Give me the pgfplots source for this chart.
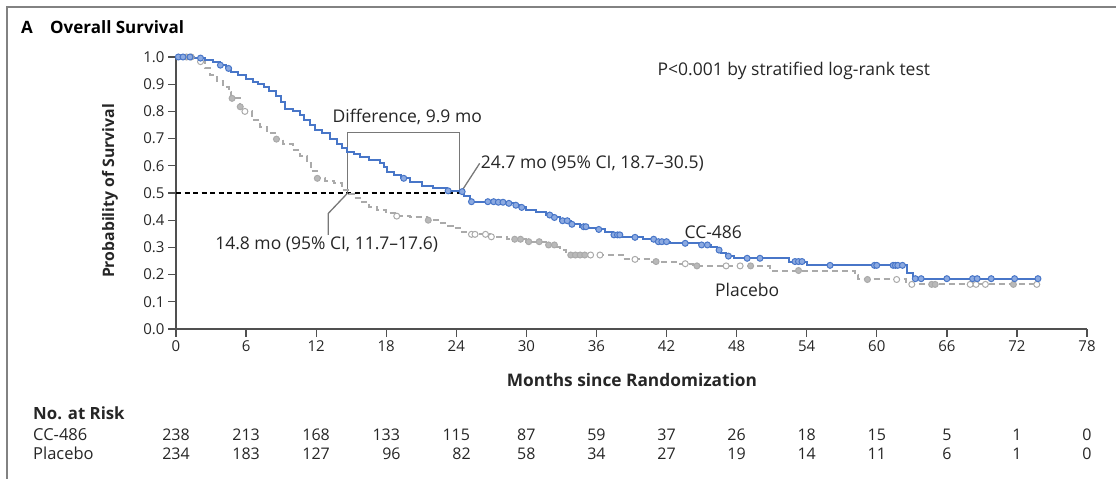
\documentclass[border=0pt]{standalone}
\usepackage{fontspec}
\setmainfont{Open Sans}
\usepackage{pgfplots}
\pgfplotsset{compat=1.18}
\definecolor{cblue}{RGB}{72,118,200}
\definecolor{cbluefill}{RGB}{140,170,225}
\definecolor{cgray}{RGB}{170,170,170}
\definecolor{cgrayfill}{RGB}{185,185,185}
\definecolor{axgray}{RGB}{80,80,80}
\definecolor{brgray}{RGB}{120,120,120}
\definecolor{framegray}{RGB}{130,130,130}
\newcommand{\fs}[1]{\fontsize{#1bp}{#1bp}\selectfont}
\begin{document}
\begin{tikzpicture}
\useasboundingbox (0,0) rectangle (1116bp,479bp);
% frame
\draw[framegray, line width=2bp] (7bp,0) -- (7bp,472bp) -- (1116bp,472bp);
% titles
\node[anchor=west, inner sep=0] at (21bp,452bp) {\fs{17}\bfseries A};
\node[anchor=west, inner sep=0] at (50bp,452bp) {\fs{17}\bfseries Overall Survival};
\begin{axis}[
  at={(176bp,150bp)}, anchor=south west,
  scale only axis, width=911bp, height=272bp,
  xmin=0, xmax=78, ymin=0, ymax=1,
  axis x line*=bottom, axis y line*=left,
  axis line style={axgray, line width=1.5bp},
  xtick={0,6,...,78},
  ytick={0,0.1,...,1.0},
  tick align=outside,
  major tick length=8bp,
  tick style={axgray, line width=1.3bp},
  /pgf/number format/assume math mode=true,
  ticklabel style={font=\fs{15}, text=black!85},
  yticklabel style={/pgf/number format/.cd, fixed, fixed zerofill, precision=1},
  xticklabel style={/pgf/number format/.cd, fixed, precision=0},
  clip=false,
]
% reference dashed line at median
\addplot[black, line width=1.2bp, dash pattern=on 5bp off 3.5bp] coordinates {(0,0.5) (24.7,0.5)};
% bracket
\addplot[brgray, line width=1.3bp] coordinates {(14.7,0.5) (14.7,0.723) (24.3,0.723) (24.3,0.5)};
% leader lines
\addplot[brgray, line width=1.3bp] coordinates {(24.4,0.503) (26.0,0.609)};
\addplot[brgray, line width=1.3bp] coordinates {(14.7,0.5) (13.04,0.425) (13.04,0.346)};
% Placebo curve
\addplot[cgray, line width=2bp, dash pattern=on 6bp off 4bp, const plot] coordinates {
(0,1.0) (1.5,0.995) (2.0,0.983) (2.5,0.96) (2.9,0.934) (3.5,0.91) (4.05,0.89) (4.5,0.87)
(4.75,0.848) (5.5,0.817) (5.8,0.80) (6.5,0.77) (7.2,0.744) (7.8,0.72) (8.5,0.698) (9.2,0.68)
(10.0,0.658) (10.6,0.635) (11.2,0.609) (11.6,0.58) (12.05,0.554) (12.8,0.545) (13.5,0.535)
(14.2,0.51) (14.8,0.495) (15.2,0.48) (15.75,0.468) (16.5,0.45) (17.2,0.437) (18.0,0.425)
(18.9,0.415) (20.0,0.41) (21.5,0.40) (22.4,0.39) (23.0,0.38) (23.7,0.37) (24.5,0.358)
(25.3,0.348) (26.9,0.339) (28.3,0.33) (30.0,0.321) (31.7,0.309) (32.6,0.3) (32.9,0.29)
(33.4,0.272) (38.3,0.256) (40.5,0.248) (43.0,0.24) (44.3,0.232) (50.9,0.215) (58.1,0.197)
(58.4,0.182) (62.5,0.164) (73.7,0.164)};
% Placebo censor marks (filled)
\addplot[only marks, mark=*, mark size=3bp, mark options={draw=cgray, fill=cgrayfill, line width=1bp}] coordinates {
(0.9,1.0) (1.3,1.0) (4.8,0.848) (5.5,0.817) (8.6,0.698) (12.1,0.554) (21.6,0.40) (29.0,0.33)
(29.5,0.33) (30.2,0.321) (31.1,0.321) (31.9,0.309) (32.4,0.309) (33.8,0.272) (34.2,0.272)
(34.6,0.272) (35.0,0.272) (41.1,0.248) (44.6,0.232) (49.2,0.232) (53.3,0.215) (59.2,0.182)
(64.7,0.164) (65.0,0.164) (71.7,0.164)};
% Placebo censor marks (open)
\addplot[only marks, mark=*, mark size=3bp, mark options={draw=cgray, fill=white, line width=1bp}] coordinates {
(2.1,0.983) (5.9,0.80) (18.9,0.415) (25.3,0.348) (25.6,0.348) (26.5,0.348) (27.0,0.339)
(35.5,0.272) (36.3,0.272) (39.3,0.256) (43.6,0.24) (47.1,0.232) (48.3,0.232) (61.7,0.182)
(63.0,0.164) (68.0,0.164) (68.5,0.164) (69.3,0.164) (73.7,0.164)};
% CC-486 curve
\addplot[cblue, line width=2bp, const plot] coordinates {
(0,1.0) (1.5,0.996) (2.5,0.99) (3.2,0.983) (3.8,0.97) (4.3,0.958) (4.7,0.946) (5.3,0.933)
(6.0,0.92) (6.6,0.908) (7.0,0.9) (7.5,0.89) (8.0,0.875) (8.6,0.855) (9.0,0.835) (9.3,0.81)
(10.0,0.80) (10.6,0.787) (11.0,0.77) (11.5,0.75) (11.9,0.73) (12.5,0.72) (13.2,0.697)
(13.8,0.68) (14.2,0.665) (14.6,0.652) (15.2,0.643) (15.75,0.634) (16.5,0.622) (17.5,0.609)
(17.8,0.595) (18.1,0.578) (18.7,0.566) (19.3,0.554) (20.0,0.542) (21.1,0.526) (22.0,0.517)
(23.2,0.508) (24.4,0.505) (24.7,0.49) (25.2,0.468) (27.5,0.466) (28.3,0.462) (29.0,0.455)
(29.5,0.447) (30.0,0.437) (30.8,0.43) (31.7,0.419) (32.3,0.41) (32.9,0.398) (33.8,0.385)
(34.6,0.376) (35.3,0.37) (36.0,0.366) (36.7,0.355) (37.4,0.346) (38.2,0.34) (39.1,0.337)
(40.0,0.33) (41.1,0.321) (42.3,0.318) (42.9,0.315) (44.9,0.309) (45.8,0.3) (46.3,0.29)
(46.7,0.28) (47.1,0.268) (47.8,0.26) (52.5,0.248) (54.0,0.234) (62.6,0.207) (63.1,0.185)
(73.8,0.185)};
% CC-486 censor marks
\addplot[only marks, mark=*, mark size=3bp, mark options={draw=cblue, fill=cbluefill, line width=1bp}] coordinates {
(0.2,1.0) (0.6,1.0) (1.2,1.0) (2.1,0.996) (3.8,0.97) (4.5,0.958) (19.5,0.554) (23.3,0.508)
(24.5,0.505) (25.3,0.468) (26.7,0.468) (27.2,0.468) (27.6,0.466) (28.0,0.466) (28.5,0.462)
(29.1,0.455) (29.6,0.447) (32.0,0.419) (32.4,0.41) (33.1,0.398) (33.5,0.398) (33.9,0.385)
(34.9,0.376) (35.1,0.376) (36.2,0.366) (37.5,0.346) (37.8,0.346) (38.0,0.346) (39.3,0.337)
(40.9,0.33) (41.3,0.321) (41.6,0.321) (42.0,0.321) (43.6,0.315) (45.0,0.309) (45.5,0.309)
(46.5,0.29) (47.3,0.268) (48.9,0.26) (50.0,0.26) (53.0,0.248) (53.3,0.248) (53.6,0.248)
(56.0,0.234) (59.8,0.234) (60.0,0.234) (61.4,0.234) (61.6,0.234) (61.8,0.234) (62.2,0.234)
(63.3,0.185) (63.8,0.185) (66.0,0.185) (68.2,0.185) (68.6,0.185) (69.8,0.185) (71.8,0.185)
(73.8,0.185)};
% annotations
\node[font=\fs{17.5}, text=black!85] at (axis cs:52.9,0.95) {P<0.001 by stratified log-rank test};
\node[font=\fs{17.5}, text=black!85] at (axis cs:19.8,0.778) {Difference, 9.9 mo};
\node[font=\fs{17.5}, text=black!85, anchor=west, inner sep=1bp] at (axis cs:26.0,0.609) {24.7 mo (95\% CI, 18.7--30.5)};
\node[font=\fs{17.5}, text=black!85] at (axis cs:12.9,0.309) {14.8 mo (95\% CI, 11.7--17.6)};
\node[font=\fs{17.5}, text=black!85] at (axis cs:46.0,0.357) {CC-486};
\node[font=\fs{17.5}, text=black!85] at (axis cs:48.9,0.143) {Placebo};
\end{axis}
% axis labels
\node[rotate=90, font=\fs{15.8}\bfseries, text=black!85] at (110bp,288bp) {Probability of Survival};
\node[font=\fs{17.3}\bfseries, text=black!85] at (632bp,99bp) {Months since Randomization};
% risk table
\node[anchor=west, inner sep=0, font=\fs{16.8}\bfseries, text=black!85] at (33bp,65.7bp) {No. at Risk};
\node[anchor=west, inner sep=0, font=\fs{16.5}, text=black!85] at (33bp,44.5bp) {CC-486};
\node[anchor=west, inner sep=0, font=\fs{16.5}, text=black!85] at (33bp,25.3bp) {Placebo};
\foreach \m/\a/\b/\d in {0/238/234/0, 6/213/183/0, 12/168/127/0, 18/133/96/0.45, 24/115/82/0.45, 30/87/58/0, 36/59/34/0, 42/37/27/0, 48/26/19/0, 54/18/14/0, 60/15/11/0, 66/5/6/0, 72/1/1/0, 78/0/0/0} {
  \node[font=\fs{16}, text=black!85] at ({176bp+\m*11.679bp},44.5bp) {\a};
  \node[font=\fs{16}, text=black!85] at ({176bp+(\m+\d)*11.679bp},25.3bp) {\b};
}
\end{tikzpicture}
\end{document}
